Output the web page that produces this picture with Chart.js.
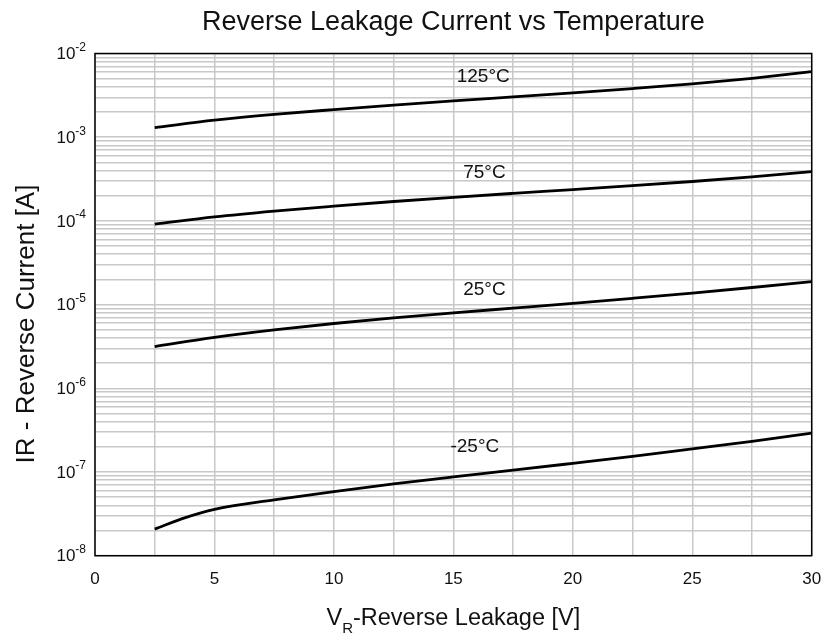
<!DOCTYPE html>
<html>
<head>
<meta charset="utf-8">
<script src="https://cdn.jsdelivr.net/npm/chart.js@4"></script>
<style>
body{margin:0;background:#fff;}
#wrap{width:825px;height:641px;}
</style>
</head>
<body>
<div id="wrap"><canvas id="myCanvas"></canvas></div>
<script>
// reverse voltage points [V]
var vr = [2.5,5,7.5,10,12.5,15,17.5,20,22.5,25,27.5,30];
var vrCold = [2.5,3.75,5,7.5,10,12.5,15,17.5,20,22.5,25,27.5,30];
// reverse current [A]
var ir125 = [1.302e-3,1.596e-3,1.873e-3,2.137e-3,2.418e-3,2.715e-3,3.03e-3,3.383e-3,3.807e-3,4.334e-3,5.055e-3,6.08e-3];
var ir75 = [9.13e-5,1.116e-4,1.31e-4,1.502e-4,1.705e-4,1.914e-4,2.132e-4,2.366e-4,2.634e-4,2.956e-4,3.364e-4,3.882e-4];
var ir25 = [3.148e-6,4.055e-6,4.985e-6,5.944e-6,6.935e-6,7.959e-6,9.08e-6,1.036e-5,1.189e-5,1.372e-5,1.601e-5,1.883e-5];
var irm25 = [2.08e-8,2.83e-8,3.58e-8,4.64e-8,5.83e-8,7.21e-8,8.74e-8,1.05e-7,1.27e-7,1.54e-7,1.89e-7,2.32e-7,2.91e-7];

var tempLabels = ['125°C','75°C','25°C','-25°C'];
var labelX = [16.25,16.3,16.3,15.9];
var labelY = [5.3e-3,3.74e-4,1.5e-5,2.0e-7];

var xTicks = [0,5,10,15,20,25,30];
var xGrid = [0,2.5,5,7.5,10,12.5,15,17.5,20,22.5,25,27.5,30];
var yTickExps = [-2,-3,-4,-5,-6,-7,-8];

var FONT = '"Liberation Sans", Arial, sans-serif';

function pts(xs, ys){
	var out = [];
	for(var i=0;i<xs.length;i++) out.push({x:xs[i], y:ys[i]});
	return out;
}

function yGridValues(){
	var v = [];
	for(var e=-8;e<-2;e++){
		for(var m=1;m<10;m++) v.push(m*Math.pow(10,e));
	}
	v.push(1e-2);
	return v;
}

var textPlugin = {
	id:'textPlugin',
	beforeDatasetsDraw:function(chart){
		var a = chart.chartArea, ctx = chart.ctx;
		ctx.save();
		ctx.strokeStyle = '#000';
		ctx.lineWidth = 1.5;
		ctx.strokeRect(a.left, a.top, a.right-a.left, a.bottom-a.top);
		ctx.restore();
	},
	afterDraw:function(chart){
		var ctx = chart.ctx, a = chart.chartArea;
		var xs = chart.scales.x, ys = chart.scales.y;
		ctx.save();
		ctx.fillStyle = '#111';

		// title
		ctx.font = '27px ' + FONT;
		ctx.textAlign = 'center';
		ctx.textBaseline = 'alphabetic';
		ctx.fillText('Reverse Leakage Current vs Temperature', (a.left+a.right)/2, 30);

		// y tick labels 10^n
		ctx.textBaseline = 'middle';
		yTickExps.forEach(function(e){
			var py = ys.getPixelForValue(Math.pow(10,e));
			ctx.font = '12px ' + FONT;
			ctx.textAlign = 'right';
			var ew = ctx.measureText(String(e)).width;
			ctx.fillText(String(e), 86, py-6);
			ctx.font = '17px ' + FONT;
			ctx.fillText('10', 86-ew, py+1);
		});

		// x tick labels
		ctx.font = '17px ' + FONT;
		ctx.textAlign = 'center';
		ctx.textBaseline = 'alphabetic';
		xTicks.forEach(function(v){
			ctx.fillText(String(v), xs.getPixelForValue(v), 584);
		});

		// x axis title with subscript
		var big = '23.5px ' + FONT, small = '15px ' + FONT;
		ctx.font = big;
		var w1 = ctx.measureText('V').width;
		var w3 = ctx.measureText('-Reverse Leakage [V]').width;
		ctx.font = small;
		var w2 = ctx.measureText('R').width;
		var sx = (a.left+a.right)/2 - (w1+w2+w3)/2;
		ctx.textAlign = 'left';
		ctx.font = big;
		ctx.fillText('V', sx, 625);
		ctx.font = small;
		ctx.fillText('R', sx+w1, 633);
		ctx.font = big;
		ctx.fillText('-Reverse Leakage [V]', sx+w1+w2, 625);

		// y axis title
		ctx.save();
		ctx.translate(34, 324);
		ctx.rotate(-Math.PI/2);
		ctx.font = '26px ' + FONT;
		ctx.textAlign = 'center';
		ctx.fillText('IR - Reverse Current [A]', 0, 0);
		ctx.restore();

		// curve labels
		ctx.font = '19px ' + FONT;
		ctx.textAlign = 'center';
		ctx.textBaseline = 'middle';
		tempLabels.forEach(function(t, i){
			ctx.fillText(t, xs.getPixelForValue(labelX[i]), ys.getPixelForValue(labelY[i]));
		});
		ctx.restore();
	}
};

function curve(data){
	return {
		data:data,
		borderColor:'#000',
		borderWidth:2.8,
		pointRadius:0,
		fill:false,
		cubicInterpolationMode:'monotone'
	};
}

var ctx = document.getElementById('myCanvas');
var chart = new Chart(ctx,{
	type:'line',
	data:{
		datasets:[
			curve(pts(vr, ir125)),
			curve(pts(vr, ir75)),
			curve(pts(vr, ir25)),
			curve(pts(vrCold, irm25))
		]
	},
	options:{
		responsive:true,
		maintainAspectRatio:false,
		animation:false,
		layout:{padding:{left:95, top:53.5, right:13.3, bottom:85.3}},
		plugins:{legend:{display:false}, tooltip:{enabled:false}},
		scales:{
			x:{
				type:'linear', min:0, max:30,
				afterBuildTicks:function(s){ s.ticks = xGrid.map(function(v){return {value:v};}); },
				ticks:{display:false},
				grid:{color:'#c8c8c8', lineWidth:1.5, drawTicks:false},
				border:{display:false}
			},
			y:{
				type:'logarithmic', min:1e-8, max:1e-2,
				afterBuildTicks:function(s){ s.ticks = yGridValues().map(function(v){return {value:v};}); },
				ticks:{display:false},
				grid:{color:'#c8c8c8', lineWidth:1.5, drawTicks:false},
				border:{display:false}
			}
		}
	},
	plugins:[textPlugin]
});
</script>
</body>
</html>
